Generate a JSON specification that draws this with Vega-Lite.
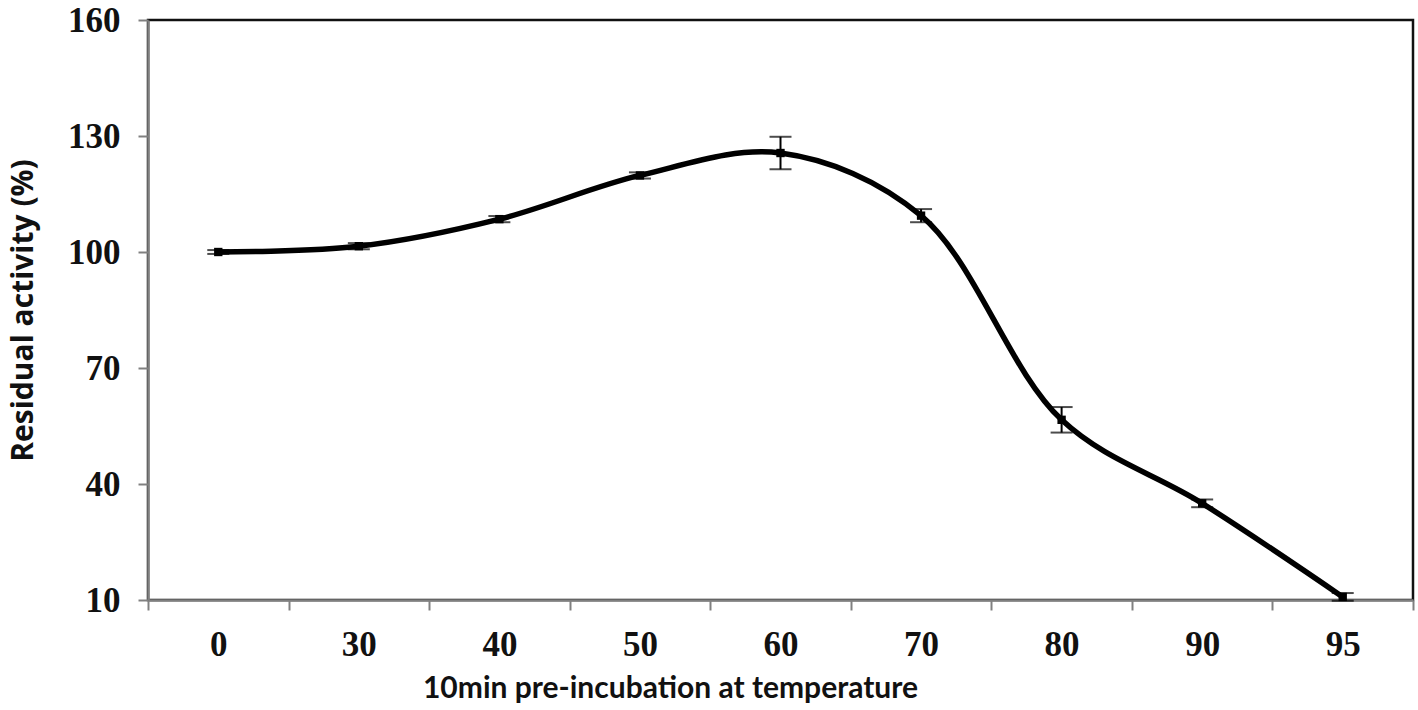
{
  "$schema": "https://vega.github.io/schema/vega-lite/v6.json",
  "autosize": {"type": "none"},
  "padding": {"left": 148, "top": 20, "right": 5, "bottom": 110},
  "width": 1265,
  "height": 580,
  "background": "white",
  "config": {
    "view": {"stroke": "#111111", "strokeWidth": 2.5},
    "axis": {"grid": false}
  },
  "data": {
    "values": [
      {"temp": "0", "activity": 100.0, "err": 0.5},
      {"temp": "30", "activity": 101.5, "err": 0.8},
      {"temp": "40", "activity": 108.5, "err": 0.8},
      {"temp": "50", "activity": 119.8, "err": 0.8},
      {"temp": "60", "activity": 125.6, "err": 4.2},
      {"temp": "70", "activity": 109.4, "err": 1.7},
      {"temp": "80", "activity": 56.6, "err": 3.3},
      {"temp": "90", "activity": 35.0, "err": 1.0},
      {"temp": "95", "activity": 10.8, "err": 1.0}
    ]
  },
  "transform": [
    {"calculate": "datum.activity - datum.err", "as": "lo"},
    {"calculate": "datum.activity + datum.err", "as": "hi"}
  ],
  "encoding": {
    "x": {
      "field": "temp",
      "type": "ordinal",
      "sort": null,
      "scale": {"paddingInner": 0, "paddingOuter": 0},
      "axis": {
        "title": "10min pre-incubation at temperature",
        "titleFont": "Lato",
        "titleFontSize": 30,
        "titleFontWeight": "bold",
        "titleColor": "#111111",
        "titleAnchor": "start",
        "titleAlign": "center",
        "titleBaseline": "middle",
        "titleX": 522,
        "titleY": 88,
        "labelFont": "Liberation Serif",
        "labelFontSize": 35,
        "labelFontWeight": "bold",
        "labelColor": "#111111",
        "labelAngle": 0,
        "labelPadding": 34,
        "labelBaseline": "middle",
        "tickBand": "extent",
        "tickSize": 10,
        "tickWidth": 2,
        "tickColor": "#808080",
        "domainColor": "#808080",
        "domainWidth": 2.5
      }
    }
  },
  "layer": [
    {
      "mark": {"type": "line", "interpolate": "catmull-rom", "color": "black", "strokeWidth": 5.5},
      "encoding": {
        "y": {
          "field": "activity",
          "type": "quantitative",
          "scale": {"domain": [10, 160], "nice": false, "zero": false},
          "axis": {
            "values": [10, 40, 70, 100, 130, 160],
            "title": "Residual activity (%)",
            "titleFont": "Open Sans",
            "titleFontSize": 30,
            "titleFontWeight": "bold",
            "titleColor": "#111111",
            "titleX": -125,
            "titleY": 290,
            "titleAlign": "center",
            "titleBaseline": "middle",
            "labelFont": "Liberation Serif",
            "labelFontSize": 35,
            "labelFontWeight": "bold",
            "labelColor": "#111111",
            "labelPadding": 18,
            "tickSize": 10,
            "tickWidth": 2,
            "tickColor": "#808080",
            "domainColor": "#808080",
            "domainWidth": 2.5
          }
        }
      }
    },
    {
      "mark": {"type": "point", "shape": "square", "filled": true, "color": "black", "size": 70, "opacity": 1},
      "encoding": {"y": {"field": "activity", "type": "quantitative"}}
    },
    {
      "mark": {"type": "rule", "color": "black", "strokeWidth": 2},
      "encoding": {"y": {"field": "lo", "type": "quantitative"}, "y2": {"field": "hi"}}
    },
    {
      "mark": {"type": "tick", "color": "black", "thickness": 2, "size": 22, "orient": "horizontal"},
      "encoding": {"y": {"field": "lo", "type": "quantitative"}}
    },
    {
      "mark": {"type": "tick", "color": "black", "thickness": 2, "size": 22, "orient": "horizontal"},
      "encoding": {"y": {"field": "hi", "type": "quantitative"}}
    }
  ]
}
